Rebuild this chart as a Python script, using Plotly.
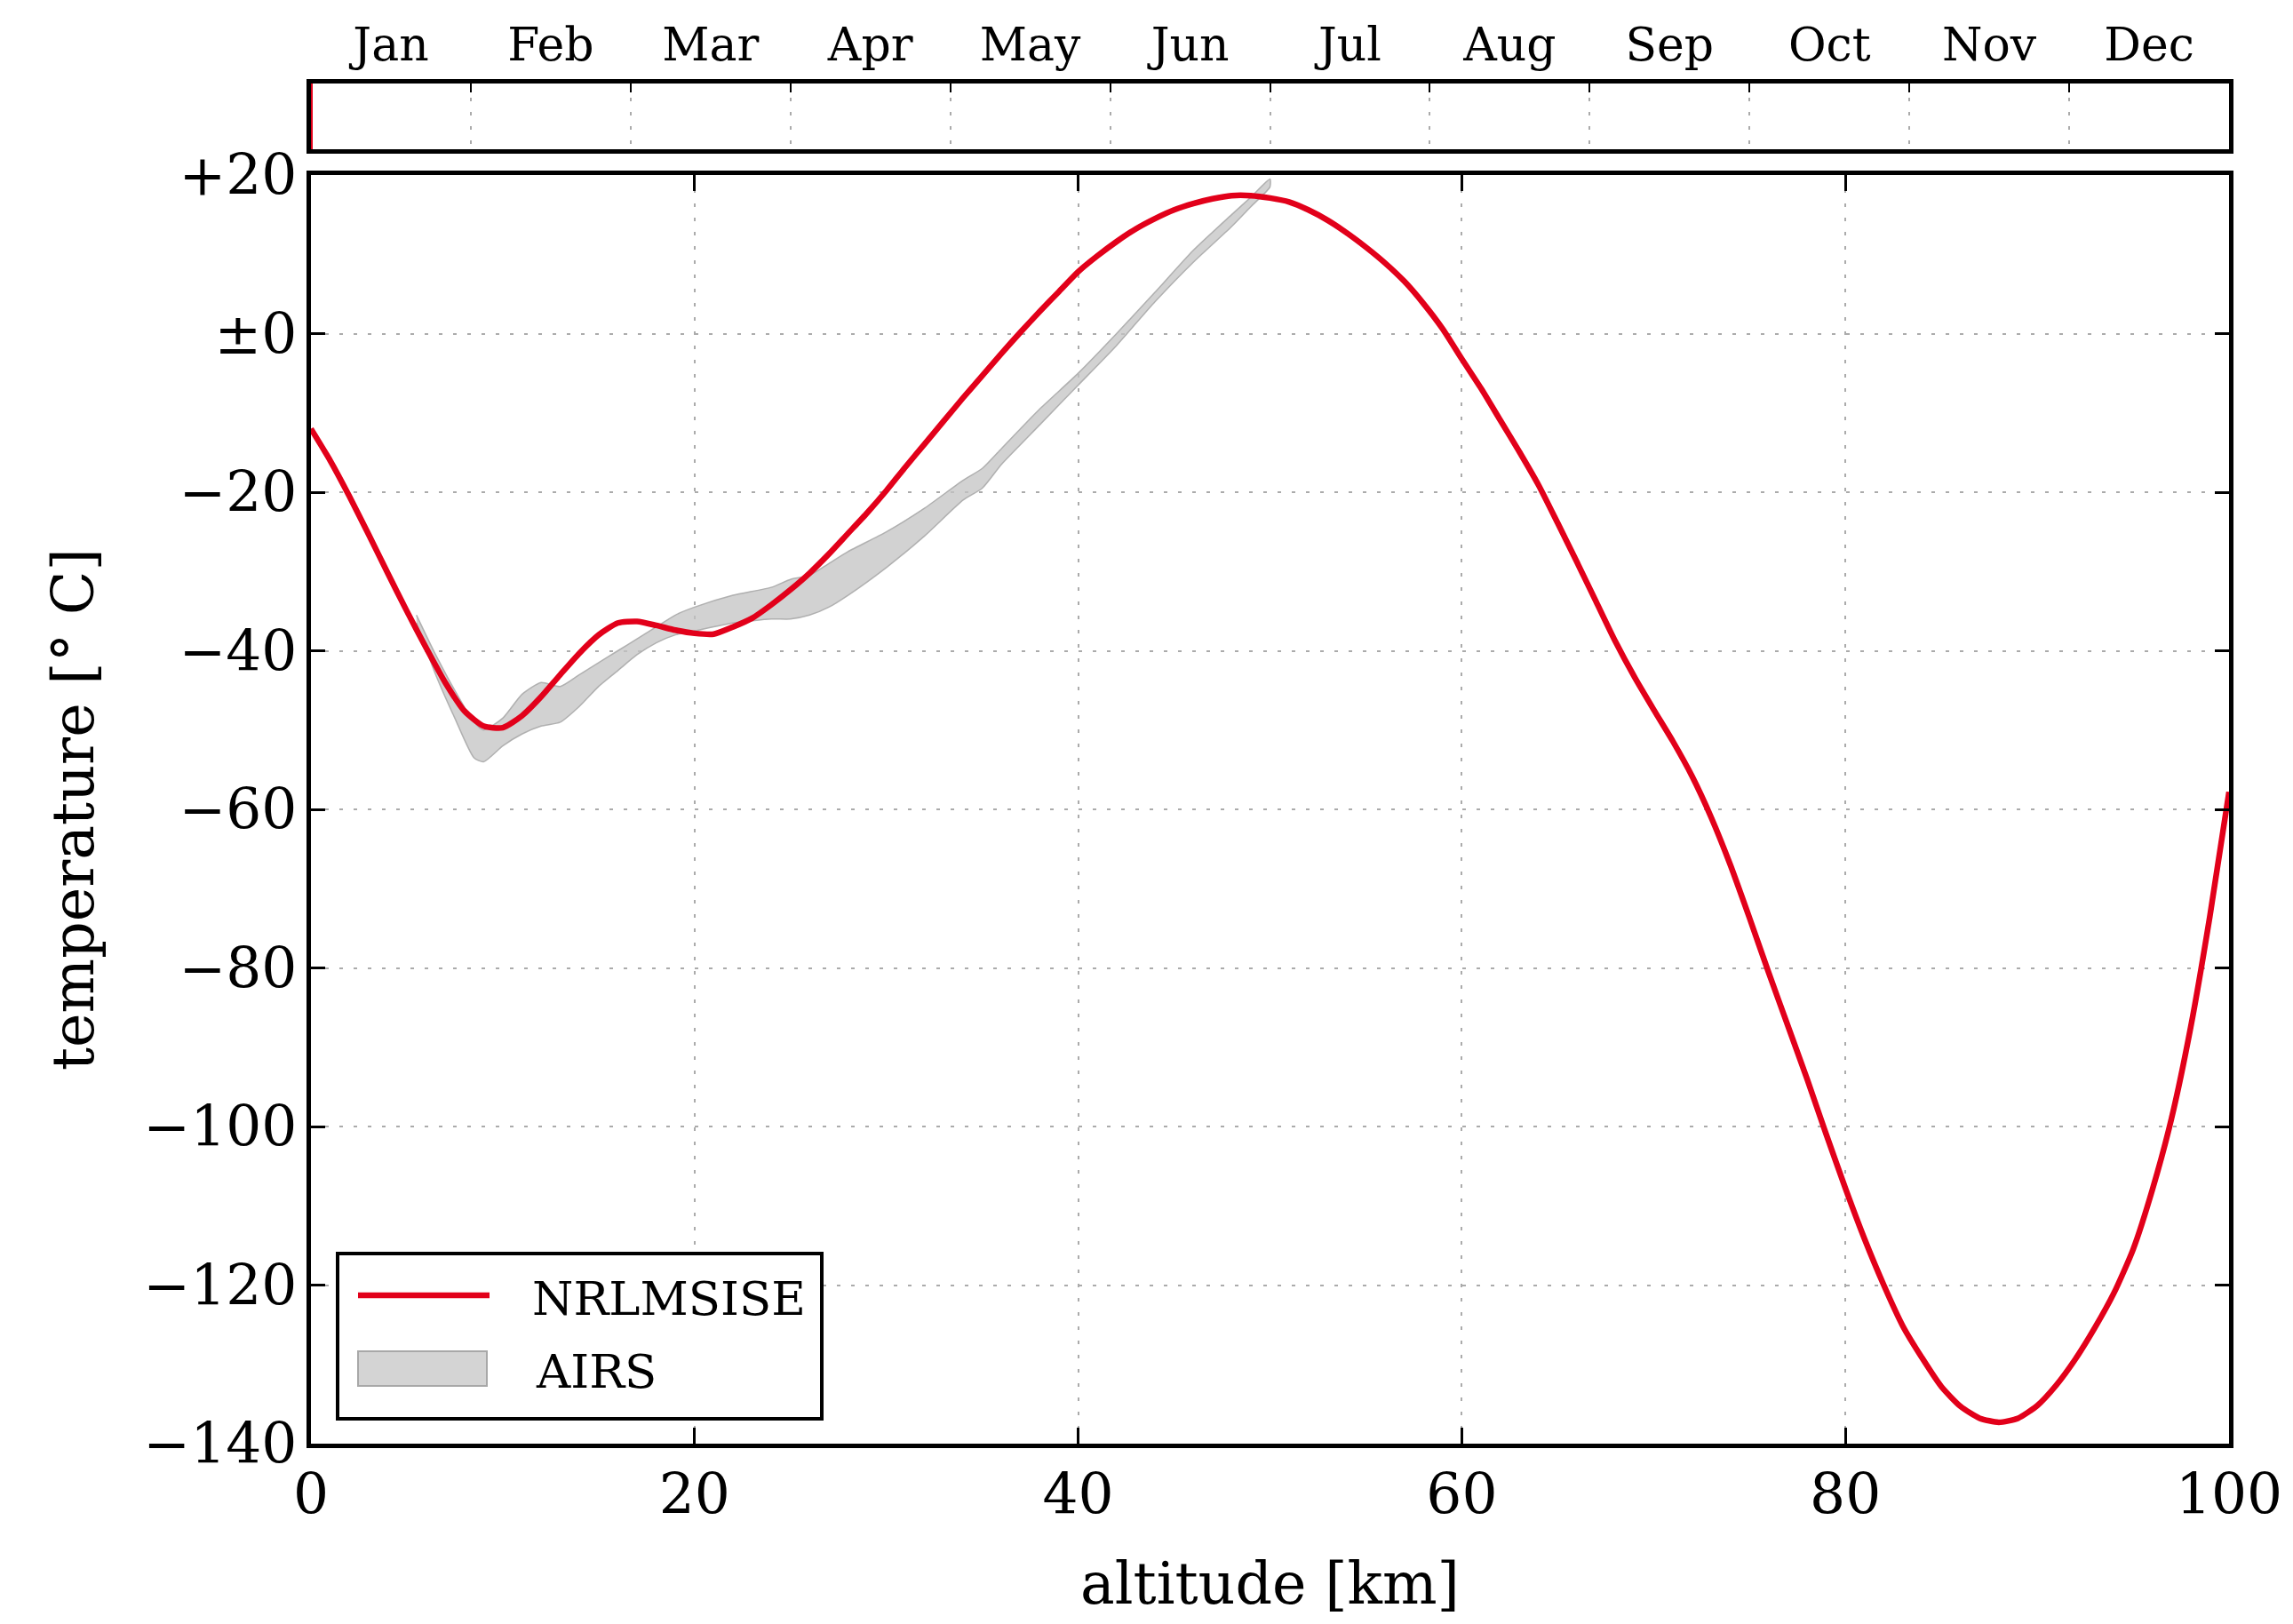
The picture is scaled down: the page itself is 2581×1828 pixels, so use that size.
import plotly.graph_objects as go

# ---------------------------------------------------------------------------
# Data
# ---------------------------------------------------------------------------
altitude_km = list(range(0, 101))
nrlmsise_temp = [
    -12.0, -16.0, -20.5, -25.3, -30.2, -35.0, -39.6, -44.0, -47.6, -49.5,
    -49.7, -48.2, -45.8, -43.0, -40.3, -38.0, -36.5, -36.3, -36.8, -37.4,
    -37.8, -37.9, -37.0, -35.9, -34.2, -32.3, -30.2, -27.8, -25.2, -22.6,
    -19.8, -16.8, -13.9, -11.0, -8.1, -5.3, -2.5, 0.2, 2.8, 5.3,
    7.8, 9.8, 11.6, 13.2, 14.5, 15.6, 16.4, 17.0, 17.4, 17.4,
    17.1, 16.6, 15.6, 14.3, 12.7, 10.9, 8.9, 6.6, 3.8, 0.6,
    -3.2, -6.9, -10.9, -14.9, -19.1, -23.9, -28.8, -33.8, -38.8, -43.3,
    -47.4, -51.4, -55.8, -61.0, -67.0, -73.7, -80.6, -87.3, -94.0, -101.0,
    -107.8, -114.2, -120.0, -125.2, -129.2, -132.8, -135.3, -136.8, -137.3, -136.8,
    -135.2, -132.6, -129.3, -125.4, -121.0, -115.5, -108.0, -99.0, -87.5, -73.5,
    -57.8,
]

# AIRS envelope (warm / cold bounds)
airs_alt = [5.5, 6.5, 7.5, 8.5, 9.0, 10.0, 11.0, 12.0, 13.0, 14.0, 15.0, 16.0,
            17.0, 18.0, 19.0, 20.0, 22.0, 24.0, 25.0, 26.0, 27.0, 28.0, 30.0,
            32.0, 34.0, 35.0, 36.0, 38.0, 40.0, 42.0, 44.0, 46.0, 48.0, 49.0, 50.0]
airs_upper = [-35.5, -40.5, -45.0, -49.0, -50.0, -48.5, -45.5, -44.0, -44.5, -43.0,
              -41.5, -40.0, -38.5, -37.0, -35.5, -34.5, -33.0, -32.0, -31.0, -30.5,
              -29.0, -27.5, -25.0, -22.0, -18.5, -17.0, -14.5, -9.5, -5.0, 0.0,
              5.2, 10.5, 15.0, 17.2, 19.5]
airs_lower = [-36.5, -43.0, -48.5, -53.5, -54.0, -52.0, -50.5, -49.5, -49.0, -47.0,
              -44.5, -42.5, -40.5, -39.0, -38.0, -37.5, -36.5, -36.0, -36.0, -35.5,
              -34.5, -33.0, -29.5, -25.5, -21.0, -19.5, -16.5, -11.5, -6.5, -1.5,
              4.0, 9.0, 13.5, 16.0, 18.5]

months = ["Jan", "Feb", "Mar", "Apr", "May", "Jun",
          "Jul", "Aug", "Sep", "Oct", "Nov", "Dec"]
current_month_pos = 0.0

temp_ticks = [20, 0, -20, -40, -60, -80, -100, -120, -140]
temp_tick_text = ["+20", "±0", "−20", "−40", "−60", "−80", "−100", "−120", "−140"]
alt_ticks = [0, 20, 40, 60, 80, 100]

# ---------------------------------------------------------------------------
# Layout helpers (page pixels -> paper fractions)
# ---------------------------------------------------------------------------
W, H = 2581, 1828


def fx(px):
    return px / W


def fy(py):
    return 1 - py / H


FONT = "DejaVu Serif, serif"
RED = "#e2001a"
GRID = "#ababab"
DASH = "4px,12px"

fig = go.Figure()

# AIRS envelope as a closed polygon
fig.add_trace(go.Scatter(
    x=airs_alt + airs_alt[::-1],
    y=airs_upper + airs_lower[::-1],
    fill="toself",
    fillcolor="rgba(195,195,195,0.75)",
    line=dict(color="rgba(170,170,170,0.9)", width=1.5, shape="spline", smoothing=0.6),
    mode="lines",
    name="AIRS",
    showlegend=False,
    hoverinfo="skip",
    xaxis="x", yaxis="y",
))

# NRLMSISE profile
fig.add_trace(go.Scatter(
    x=altitude_km,
    y=nrlmsise_temp,
    mode="lines",
    line=dict(color=RED, width=6.5, shape="spline", smoothing=0.6),
    name="NRLMSISE",
    showlegend=False,
    xaxis="x", yaxis="y",
))

# current date marker in the month strip
fig.add_trace(go.Scatter(
    x=[current_month_pos, current_month_pos],
    y=[0, 1],
    mode="lines",
    line=dict(color=RED, width=4),
    showlegend=False,
    hoverinfo="skip",
    xaxis="x2", yaxis="y2",
))

axis_common = dict(
    automargin=False,
    showline=True, linecolor="black", linewidth=5, mirror="ticks",
    ticks="inside", tickcolor="black", tickwidth=3,
    gridcolor=GRID, gridwidth=2, griddash=DASH,
    zeroline=False,
    tickfont=dict(family=FONT, size=63, color="black"),
)

fig.update_layout(
    width=W, height=H,
    margin=dict(l=0, r=0, t=0, b=0, autoexpand=False),
    paper_bgcolor="white", plot_bgcolor="white",
    showlegend=False,
    xaxis=dict(
        axis_common,
        domain=[fx(350), fx(2509)],
        range=[0, 100],
        tickvals=alt_ticks,
        ticklen=18,
        ticklabelstandoff=-2,
        anchor="y",
    ),
    yaxis=dict(
        axis_common,
        domain=[fy(1625), fy(197)],
        range=[-140, 20],
        tickvals=temp_ticks,
        ticktext=temp_tick_text,
        ticklen=16,
        ticklabelstandoff=-2,
        anchor="x",
    ),
    xaxis2=dict(
        automargin=False,
        domain=[fx(350), fx(2509)],
        range=[0, 12],
        side="top",
        anchor="y2",
        showline=True, linecolor="black", linewidth=5, mirror=True,
        tickvals=[i + 0.5 for i in range(12)],
        ticktext=months,
        ticks="", ticklen=0,
        showgrid=False,
        zeroline=False,
        ticklabelstandoff=0,
        tickfont=dict(family=FONT, size=52, color="black"),
        minor=dict(
            tickvals=list(range(1, 12)),
            ticks="inside", ticklen=10, tickwidth=2, tickcolor="black",
            showgrid=True, gridcolor=GRID, gridwidth=2, griddash=DASH,
        ),
    ),
    yaxis2=dict(
        automargin=False,
        domain=[fy(168), fy(94)],
        range=[0, 1],
        anchor="x2",
        showline=True, linecolor="black", linewidth=5, mirror=True,
        showticklabels=False, ticks="", showgrid=False, zeroline=False,
    ),
)

# axis titles
fig.add_annotation(
    text="temperature [° C]", textangle=-90,
    x=fx(82), y=fy(911), xref="paper", yref="paper",
    xanchor="center", yanchor="middle",
    showarrow=False, font=dict(family=FONT, size=65, color="black"),
)
fig.add_annotation(
    text="altitude [km]",
    x=fx(1430), y=fy(1782), xref="paper", yref="paper",
    xanchor="center", yanchor="middle",
    showarrow=False, font=dict(family=FONT, size=65, color="black"),
)

# legend box
fig.add_shape(type="rect", xref="paper", yref="paper",
              x0=fx(380), x1=fx(925), y0=fy(1597), y1=fy(1411),
              line=dict(color="black", width=4), fillcolor="white", layer="above")
fig.add_shape(type="line", xref="paper", yref="paper",
              x0=fx(403), x1=fx(551), y0=fy(1458), y1=fy(1458),
              line=dict(color=RED, width=6.5), layer="above")
fig.add_shape(type="rect", xref="paper", yref="paper",
              x0=fx(403), x1=fx(548), y0=fy(1560), y1=fy(1521),
              line=dict(color="#a8a8a8", width=2), fillcolor="#d4d4d4", layer="above")
fig.add_annotation(text="NRLMSISE", x=fx(597), y=fy(1461), xref="paper", yref="paper",
                   xanchor="left", yanchor="middle", showarrow=False,
                   font=dict(family=FONT, size=53, color="black"))
fig.add_annotation(text="AIRS", x=fx(601), y=fy(1543), xref="paper", yref="paper",
                   xanchor="left", yanchor="middle", showarrow=False,
                   font=dict(family=FONT, size=53, color="black"))

fig.write_html("out.html")
